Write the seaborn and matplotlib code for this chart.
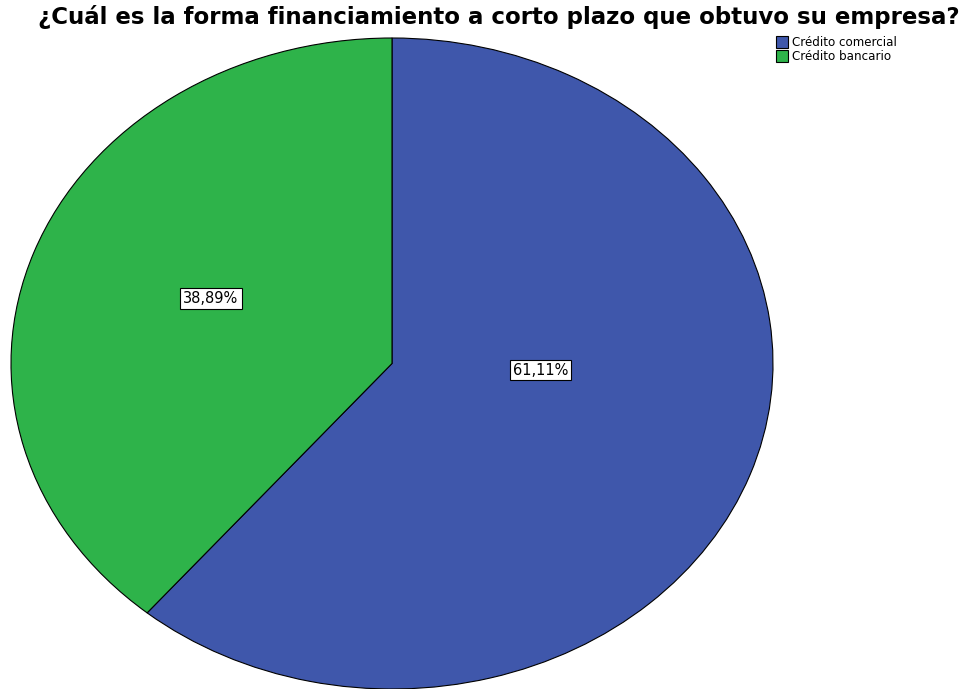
import numpy as np
import seaborn as sns
import matplotlib.pyplot as plt

# Data
categorias = ["Crédito comercial", "Crédito bancario"]
porcentajes = [61.11, 38.89]
colores = ["#3f57ab", "#2eb34a"]
titulo = "¿Cuál es la forma financiamiento a corto plazo que obtuvo su empresa?"

sns.set_style("white")
plt.rcParams["font.family"] = ["DejaVu Sans"]
plt.rcParams["text.color"] = "black"

fig = plt.figure(figsize=(9.7, 6.89), dpi=100)
# axes placed so the pie becomes the wide ellipse of the original
ax = fig.add_axes([11 / 970, 0.0 / 689, 762 / 970, 651 / 689])

wedges, texts, autotexts = ax.pie(
    porcentajes,
    colors=colores,
    startangle=90,
    counterclock=False,
    autopct=lambda p: f"{p:.2f}%".replace(".", ","),
    pctdistance=0.5,
    wedgeprops=dict(edgecolor="black", linewidth=0.8),
    textprops=dict(fontsize=10.5, color="black"),
)
ax.set_aspect("auto")
ax.set_xlim(-1, 1)
ax.set_ylim(-1, 1)

# label placement like the SPSS output
label_pos = [(0.389, -0.02), (-0.475, 0.2)]
for t, pos in zip(autotexts, label_pos):
    t.set_position(pos)
    t.set_bbox(dict(facecolor="white", edgecolor="black", linewidth=0.8, boxstyle="square,pad=0.2"))

fig.text(0.514, 0.993, titulo, ha="center", va="top", fontsize=16.5,
         fontweight="bold", color="black")

fig.legend(
    wedges, categorias,
    loc="upper left", bbox_to_anchor=(0.8, 0.948),
    frameon=False, fontsize=8.6, labelcolor="black",
    handlelength=1.0, handleheight=1.1, handletextpad=0.3,
    labelspacing=0.1, borderaxespad=0, borderpad=0,
)

fig.savefig("out.png", dpi=100)
